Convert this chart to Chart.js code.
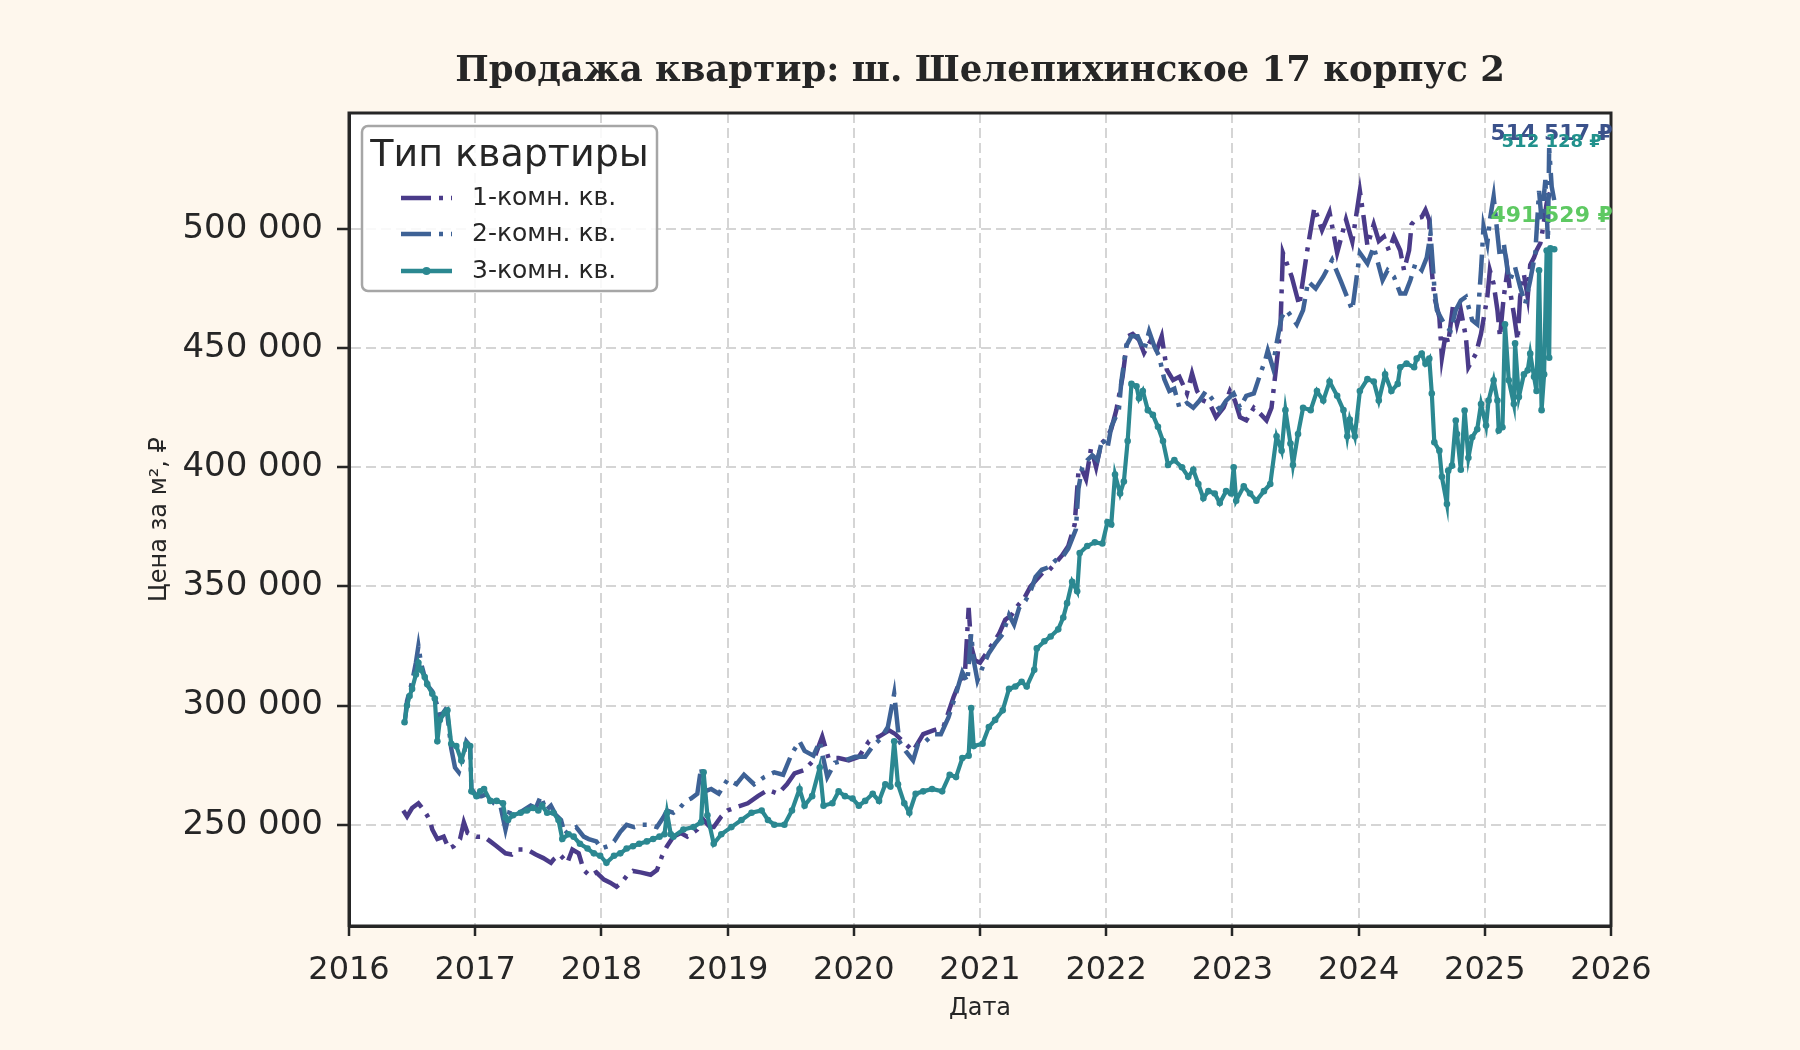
<!DOCTYPE html>
<html lang="ru">
<head>
<meta charset="utf-8">
<title>Продажа квартир: ш. Шелепихинское 17 корпус 2</title>
<script src="https://cdn.jsdelivr.net/npm/chart.js@4.4.1/dist/chart.umd.min.js"></script>
<style>
  html, body { margin: 0; padding: 0; background: #fef7ed; }
  #chart { display: block; }
</style>
</head>
<body>
<canvas id="chart" width="1800" height="1050"></canvas>
<script>
/* ── Данные ─────────────────────────────────────────────────── */
const chartTitle = 'Продажа квартир: ш. Шелепихинское 17 корпус 2';
const seriesNames = ['1-комн. кв.', '2-комн. кв.', '3-комн. кв.'];

const oneRoomYears = [
  2016.43, 2016.46, 2016.50, 2016.55, 2016.60, 2016.64, 2016.66, 2016.70, 2016.75, 2016.79,
  2016.83, 2016.88, 2016.91, 2016.94, 2017.01, 2017.07, 2017.12, 2017.17, 2017.24, 2017.29,
  2017.34, 2017.41, 2017.48, 2017.54, 2017.60, 2017.62, 2017.67, 2017.73, 2017.77, 2017.82,
  2017.86, 2017.91, 2017.96, 2018.02, 2018.07, 2018.12, 2018.16, 2018.20, 2018.25, 2018.31,
  2018.39, 2018.44, 2018.48, 2018.52, 2018.57, 2018.63, 2018.68, 2018.76, 2018.81, 2018.86,
  2018.89, 2018.95, 2019.00, 2019.08, 2019.16, 2019.24, 2019.32, 2019.40, 2019.47, 2019.53,
  2019.61, 2019.68, 2019.75, 2019.80, 2019.88, 2019.96, 2020.04, 2020.12, 2020.20, 2020.28,
  2020.33, 2020.39, 2020.47, 2020.55, 2020.63, 2020.71, 2020.79, 2020.84, 2020.88, 2020.91,
  2020.93, 2020.96, 2021.00, 2021.05, 2021.10, 2021.15, 2021.20, 2021.25, 2021.30, 2021.35,
  2021.40, 2021.45, 2021.50, 2021.55, 2021.60, 2021.65, 2021.70, 2021.75, 2021.78, 2021.80,
  2021.84, 2021.88, 2021.92, 2021.96, 2022.00, 2022.04, 2022.08, 2022.13, 2022.17, 2022.21,
  2022.26, 2022.30, 2022.35, 2022.40, 2022.44, 2022.48, 2022.53, 2022.58, 2022.64, 2022.68,
  2022.72, 2022.77, 2022.82, 2022.87, 2022.93, 2022.98, 2023.02, 2023.06, 2023.11, 2023.17,
  2023.22, 2023.27, 2023.31, 2023.34, 2023.38, 2023.40, 2023.47, 2023.53, 2023.59, 2023.65,
  2023.71, 2023.77, 2023.83, 2023.90, 2023.95, 2024.01, 2024.04, 2024.07, 2024.12, 2024.16,
  2024.20, 2024.24, 2024.28, 2024.33, 2024.36, 2024.40, 2024.42, 2024.46, 2024.50, 2024.53,
  2024.56, 2024.57, 2024.60, 2024.64, 2024.66, 2024.69, 2024.71, 2024.75, 2024.78, 2024.81,
  2024.85, 2024.87, 2024.93, 2024.97, 2025.02, 2025.04, 2025.07, 2025.10, 2025.12, 2025.15,
  2025.18, 2025.20, 2025.23, 2025.26, 2025.28, 2025.31, 2025.34, 2025.36, 2025.39, 2025.41,
  2025.44, 2025.46, 2025.49, 2025.52, 2025.55,
];
const oneRoomPrices = [
  256000, 253500, 257000, 259000, 255600, 252000, 248000, 244000, 245000, 240000,
  241000, 244000, 251000, 246500, 245000, 245000, 243000, 241000, 238000, 237500,
  239600, 239600, 237500, 236000, 234000, 235400, 237500, 234000, 239600, 238000,
  231000, 228500, 230000, 227000, 225700, 224000, 225700, 228500, 230600, 230000,
  229000, 231000, 236800, 241000, 245000, 246500, 245000, 248000, 252000, 249000,
  249000, 253500, 256000, 257600, 259000, 262000, 264600, 263000, 267000, 271500,
  273000, 277000, 287000, 278000, 278000, 277000, 278500, 285000, 287000, 289600,
  288000, 285000, 281000, 288000, 289600, 291000, 303500, 310000, 313000, 341000,
  325000, 319000, 318000, 322000, 326000, 330000, 336000, 338000, 342000, 345000,
  350000, 353000, 356000, 357000, 360000, 363000, 367000, 376000, 398000, 400000,
  395000, 408000, 400000, 410000, 412000, 416000, 424000, 438000, 455000, 456000,
  453500, 448000, 453000, 449000, 455000, 441000, 436600, 438000, 431000, 439400,
  432000, 428000, 426800, 421000, 425000, 432000, 428000, 421000, 419700, 425000,
  422500, 419700, 425000, 439000, 457700, 490000, 480000, 468000, 490000, 509000,
  499500, 507000, 490000, 504000, 494700, 516000, 505000, 493000, 502000, 495000,
  496800, 491000, 496800, 491000, 482700, 491000, 502000, 504500, 505000, 508000,
  503800, 488000, 471500, 463000, 446000, 456000, 452000, 468700, 460000, 466000,
  454700, 442000, 447700, 456000, 471500, 482700, 477000, 466000, 454700, 471500,
  482700, 474000, 464500, 453300, 471500, 481000, 471500, 485000, 488000, 491000,
  494000, 500000, 510800, 516000, 514500,
];

const twoRoomYears = [
  2016.44, 2016.46, 2016.50, 2016.53, 2016.55, 2016.57, 2016.60, 2016.63, 2016.66, 2016.70,
  2016.72, 2016.76, 2016.78, 2016.81, 2016.84, 2016.87, 2016.90, 2016.93, 2016.96, 2016.97,
  2017.01, 2017.05, 2017.10, 2017.15, 2017.20, 2017.24, 2017.27, 2017.32, 2017.38, 2017.44,
  2017.48, 2017.52, 2017.56, 2017.60, 2017.64, 2017.68, 2017.71, 2017.75, 2017.80, 2017.86,
  2017.90, 2017.96, 2018.00, 2018.05, 2018.10, 2018.15, 2018.20, 2018.26, 2018.32, 2018.38,
  2018.44, 2018.49, 2018.52, 2018.57, 2018.62, 2018.67, 2018.71, 2018.76, 2018.79, 2018.82,
  2018.87, 2018.93, 2019.00, 2019.07, 2019.13, 2019.21, 2019.29, 2019.37, 2019.44, 2019.51,
  2019.57, 2019.61, 2019.68, 2019.73, 2019.79, 2019.85, 2019.93, 2020.01, 2020.09, 2020.15,
  2020.21, 2020.27, 2020.32, 2020.36, 2020.41, 2020.47, 2020.51, 2020.57, 2020.63, 2020.69,
  2020.75, 2020.81, 2020.86, 2020.90, 2020.93, 2020.95, 2020.98, 2021.02, 2021.07, 2021.12,
  2021.18, 2021.23, 2021.27, 2021.31, 2021.36, 2021.40, 2021.44, 2021.49, 2021.54, 2021.60,
  2021.65, 2021.70, 2021.76, 2021.78, 2021.81, 2021.85, 2021.89, 2021.93, 2021.97, 2022.01,
  2022.04, 2022.10, 2022.12, 2022.16, 2022.20, 2022.25, 2022.30, 2022.34, 2022.38, 2022.42,
  2022.46, 2022.50, 2022.54, 2022.58, 2022.64, 2022.69, 2022.74, 2022.79, 2022.85, 2022.90,
  2022.95, 2023.01, 2023.06, 2023.11, 2023.17, 2023.22, 2023.26, 2023.28, 2023.32, 2023.35,
  2023.39, 2023.43, 2023.47, 2023.51, 2023.56, 2023.60, 2023.66, 2023.72, 2023.79, 2023.86,
  2023.92, 2023.95, 2024.01, 2024.07, 2024.12, 2024.19, 2024.23, 2024.28, 2024.33, 2024.37,
  2024.41, 2024.45, 2024.50, 2024.54, 2024.57, 2024.60, 2024.62, 2024.65, 2024.69, 2024.73,
  2024.77, 2024.81, 2024.85, 2024.90, 2024.94, 2024.97, 2024.99, 2025.02, 2025.04, 2025.07,
  2025.10, 2025.12, 2025.15, 2025.18, 2025.20, 2025.24, 2025.28, 2025.32, 2025.36, 2025.40,
  2025.43, 2025.45, 2025.48, 2025.50, 2025.51, 2025.53, 2025.55,
];
const twoRoomPrices = [
  292000, 302000, 310000, 318000, 325000, 318000, 312000, 308000, 306000, 300000,
  295000, 298000, 296000, 282000, 274000, 272000, 277000, 285000, 283000, 265000,
  262000, 262000, 263000, 259000, 258000, 248000, 255000, 254000, 256000, 258000,
  257000, 262000, 256000, 258000, 254000, 252000, 246000, 248000, 249000, 245000,
  244000, 243000, 240000, 241000, 243000, 247000, 250000, 249000, 250000, 250000,
  249000, 253000, 256000, 255000, 257000, 260000, 261000, 263000, 274000, 264000,
  265000, 263000, 269000, 267000, 271000, 267000, 270000, 272000, 271000, 280000,
  285000, 281000, 279000, 285000, 270000, 276000, 277000, 278500, 278500, 283000,
  286000, 291000, 305000, 285000, 281000, 277000, 284000, 285000, 288000, 288000,
  295000, 305000, 314000, 310000, 330000, 319000, 310500, 316000, 322000, 326000,
  330000, 338000, 334000, 341000, 344000, 348000, 354000, 357000, 358000, 361000,
  362000, 366000, 374000, 391000, 400000, 403000, 405000, 403000, 412000, 408000,
  417000, 424000, 436000, 451000, 455000, 455000, 449000, 457000, 451000, 446500,
  437000, 432000, 433000, 425000, 427000, 425000, 428000, 432000, 428000, 424000,
  428000, 431000, 425000, 430000, 431000, 439000, 445000, 449000, 442000, 452000,
  463000, 466000, 463000, 460000, 466000, 478000, 475000, 480000, 487000, 478000,
  470000, 466000, 490000, 485500, 492600, 478500, 482700, 480000, 473000, 473000,
  478500, 485500, 482700, 488000, 498000, 475700, 466000, 463000, 459000, 457500,
  466000, 470000, 471500, 461700, 460000, 482700, 501000, 494000, 503800, 513600,
  498000, 488000, 494000, 482700, 478500, 484000, 475700, 468700, 478500, 489800,
  516000, 503800, 520600, 495000, 534000, 517800, 512100,
];

const threeRoomYears = [
  2016.44, 2016.46, 2016.48, 2016.50, 2016.53, 2016.55, 2016.57, 2016.60, 2016.62, 2016.66,
  2016.68, 2016.70, 2016.72, 2016.76, 2016.78, 2016.81, 2016.85, 2016.89, 2016.93, 2016.96,
  2016.97, 2017.01, 2017.04, 2017.07, 2017.12, 2017.17, 2017.22, 2017.24, 2017.26, 2017.30,
  2017.36, 2017.41, 2017.46, 2017.50, 2017.53, 2017.57, 2017.62, 2017.66, 2017.69, 2017.74,
  2017.78, 2017.83, 2017.89, 2017.94, 2017.99, 2018.04, 2018.10, 2018.15, 2018.20, 2018.25,
  2018.30, 2018.36, 2018.41, 2018.46, 2018.50, 2018.52, 2018.55, 2018.57, 2018.65, 2018.73,
  2018.79, 2018.81, 2018.84, 2018.89, 2018.95, 2019.03, 2019.11, 2019.19, 2019.27, 2019.32,
  2019.37, 2019.45, 2019.51, 2019.57, 2019.61, 2019.67, 2019.73, 2019.76, 2019.83, 2019.88,
  2019.93, 2019.99, 2020.04, 2020.09, 2020.15, 2020.20, 2020.25, 2020.29, 2020.32, 2020.35,
  2020.40, 2020.44, 2020.49, 2020.55, 2020.62, 2020.70, 2020.76, 2020.81, 2020.86, 2020.91,
  2020.93, 2020.95, 2021.02, 2021.07, 2021.12, 2021.18, 2021.23, 2021.28, 2021.33, 2021.37,
  2021.43, 2021.45, 2021.51, 2021.56, 2021.62, 2021.66, 2021.69, 2021.73, 2021.77, 2021.79,
  2021.85, 2021.91, 2021.97, 2022.01, 2022.04, 2022.07, 2022.11, 2022.14, 2022.17, 2022.20,
  2022.24, 2022.26, 2022.29, 2022.33, 2022.37, 2022.41, 2022.45, 2022.49, 2022.54, 2022.60,
  2022.65, 2022.69, 2022.73, 2022.77, 2022.81, 2022.86, 2022.90, 2022.95, 2022.99, 2023.01,
  2023.03, 2023.09, 2023.14, 2023.19, 2023.25, 2023.30, 2023.35, 2023.39, 2023.42, 2023.46,
  2023.48, 2023.52, 2023.56, 2023.62, 2023.67, 2023.72, 2023.77, 2023.83, 2023.88, 2023.91,
  2023.93, 2023.97, 2024.01, 2024.07, 2024.12, 2024.16, 2024.21, 2024.26, 2024.31, 2024.33,
  2024.38, 2024.44, 2024.46, 2024.50, 2024.53, 2024.56, 2024.58, 2024.60, 2024.64, 2024.66,
  2024.70, 2024.71, 2024.74, 2024.77, 2024.78, 2024.81, 2024.84, 2024.87, 2024.90, 2024.94,
  2024.97, 2025.01, 2025.03, 2025.07, 2025.10, 2025.11, 2025.14, 2025.16, 2025.19, 2025.23,
  2025.24, 2025.27, 2025.31, 2025.34, 2025.36, 2025.39, 2025.41, 2025.43, 2025.45, 2025.47,
  2025.49, 2025.51, 2025.52, 2025.55,
];
const threeRoomPrices = [
  293000, 300000, 304000, 307000, 313000, 318000, 315000, 312000, 309000, 305000,
  303000, 285000, 294000, 297000, 298000, 284000, 283000, 277000, 284000, 283000,
  264000, 262000, 264000, 265000, 260000, 260000, 259000, 253000, 252000, 254000,
  255000, 256000, 257000, 256000, 258000, 255000, 255000, 252000, 244000, 246000,
  245000, 242000, 240000, 238000, 237000, 234000, 237000, 238000, 240000, 241000,
  242000, 243000, 244000, 245000, 246000, 255000, 246000, 245000, 248000, 249000,
  251000, 272000, 254000, 242000, 246000, 249000, 252000, 255000, 256000, 252000,
  250000, 250000, 256000, 265000, 258000, 262000, 274000, 258000, 259000, 264000,
  262000, 261000, 258000, 260000, 263000, 260000, 267000, 266000, 285000, 267000,
  259000, 255000, 263000, 264000, 265000, 264000, 271000, 270000, 278000, 279000,
  299000, 283000, 284000, 291000, 294000, 298000, 307000, 308000, 310000, 308000,
  315000, 324000, 327000, 329000, 332000, 337000, 343000, 352000, 348000, 364000,
  367000, 368500, 368000, 377000, 376000, 397000, 389000, 394000, 411000, 435000,
  434000, 429000, 432000, 424000, 422000, 417000, 411000, 401000, 403000, 400000,
  396000, 399000, 393000, 387000, 390000, 389000, 385000, 390000, 389000, 400000,
  386000, 392000, 389000, 386000, 390000, 393000, 413000, 407000, 424000, 410000,
  401000, 414000, 425000, 424000, 432000, 428000, 436000, 430000, 424000, 413000,
  420000, 413000, 432000, 437000, 436000, 428000, 439000, 432000, 435000, 442000,
  443500, 442000, 445600, 447700, 443500, 445600, 431000, 410500, 407000, 396000,
  384600, 398600, 400700, 419600, 414000, 399000, 423800, 404000, 412600, 416000,
  426600, 417500, 428000, 436500, 428000, 415400, 416800, 460000, 436500, 426600,
  452000, 429500, 439000, 440700, 447700, 438000, 432000, 482700, 424000, 439000,
  491000, 446000, 491900, 491500,
];

const xTickYears = [2016, 2017, 2018, 2019, 2020, 2021, 2022, 2023, 2024, 2025, 2026];
const yTickValues = [250000, 300000, 350000, 400000, 450000, 500000];

// подписи последних значений
const endLabels = ['514 517 ₽', '512 128 ₽', '491 529 ₽'];
const endLabelYears = [2025.53, 2025.53, 2025.53];
const endLabelValues = [539600, 536300, 505200];

/* ── Оформление ──────────────────────────────────────────────── */
const COLORS = {
  one:   '#4a3b89',
  two:   '#3e6296',
  three: '#2b8891',
  labels: ['#3b528b', '#21918c', '#5ec962'],
  ink:   '#262626',
  grid:  '#d5d5d5',
  bg:    '#fef7ed',
};
const DASH_DOT = [30, 8, 4, 8];
const FONT = '"DejaVu Sans", sans-serif';

function toPoints(xs, ys) {
  return xs.map((x, i) => ({ x, y: ys[i] }));
}

function formatRub(v) {
  return String(v).replace(/\B(?=(\d{3})+(?!\d))/g, ' ');
}

/* ── Плагин: фон, заголовок, рамка, легенда, подписи ─────────── */
const decorPlugin = {
  id: 'decor',
  beforeDraw(chart) {
    const { ctx, chartArea: a } = chart;
    ctx.save();
    ctx.fillStyle = COLORS.bg;
    ctx.fillRect(0, 0, chart.width, chart.height);
    ctx.fillStyle = '#ffffff';
    ctx.fillRect(a.left, a.top, a.right - a.left, a.bottom - a.top);
    ctx.restore();
  },
  afterDraw(chart) {
    const { ctx, chartArea: a, scales } = chart;
    ctx.save();

    // заголовок
    ctx.fillStyle = COLORS.ink;
    ctx.font = `bold 35.5px "DejaVu Serif", serif`;
    ctx.textAlign = 'center';
    ctx.textBaseline = 'middle';
    ctx.fillText(chartTitle, (a.left + a.right) / 2, 72);

    // рамка
    ctx.strokeStyle = COLORS.ink;
    ctx.lineWidth = 3;
    ctx.strokeRect(a.left, a.top, a.right - a.left, a.bottom - a.top);

    // подписи последних значений
    endLabels.forEach((txt, i) => {
      ctx.font = `bold ${i === 1 ? 18 : 22}px ${FONT}`;
      ctx.fillStyle = COLORS.labels[i];
      ctx.fillText(txt, scales.x.getPixelForValue(endLabelYears[i]), scales.y.getPixelForValue(endLabelValues[i]));
    });

    // легенда
    const box = { x: a.left + 13, y: a.top + 13, w: 295, h: 165 };
    ctx.beginPath();
    ctx.roundRect(box.x, box.y, box.w, box.h, 6);
    ctx.fillStyle = 'rgba(255,255,255,0.85)';
    ctx.fill();
    ctx.strokeStyle = '#a6a6a6';
    ctx.lineWidth = 2.5;
    ctx.stroke();

    ctx.fillStyle = COLORS.ink;
    ctx.font = `38px ${FONT}`;
    ctx.textAlign = 'center';
    ctx.fillText('Тип квартиры', box.x + box.w / 2, box.y + 30);

    const rowY = [box.y + 72, box.y + 108, box.y + 145];
    const lineColors = [COLORS.one, COLORS.two, COLORS.three];
    ctx.font = `25px ${FONT}`;
    ctx.textAlign = 'left';
    seriesNames.forEach((name, i) => {
      const x0 = box.x + 39, x1 = box.x + 90;
      ctx.beginPath();
      ctx.strokeStyle = lineColors[i];
      ctx.lineWidth = 4.5;
      ctx.setLineDash(i < 2 ? DASH_DOT : []);
      ctx.moveTo(x0, rowY[i]);
      ctx.lineTo(x1, rowY[i]);
      ctx.stroke();
      ctx.setLineDash([]);
      if (i === 2) {
        ctx.beginPath();
        ctx.fillStyle = lineColors[i];
        ctx.arc((x0 + x1) / 2, rowY[i], 4, 0, Math.PI * 2);
        ctx.fill();
      }
      ctx.fillStyle = COLORS.ink;
      ctx.fillText(name, box.x + 110, rowY[i]);
    });
    ctx.restore();
  },
};

/* ── График ──────────────────────────────────────────────────── */
const ctx = document.getElementById('chart');
new Chart(ctx, {
  type: 'line',
  data: {
    datasets: [
      {
        label: seriesNames[0],
        data: toPoints(oneRoomYears, oneRoomPrices),
        borderColor: COLORS.one,
        borderWidth: 4.5,
        borderDash: DASH_DOT,
        pointRadius: 0,
        order: 2,
      },
      {
        label: seriesNames[1],
        data: toPoints(twoRoomYears, twoRoomPrices),
        borderColor: COLORS.two,
        borderWidth: 4.5,
        borderDash: DASH_DOT,
        pointRadius: 0,
        order: 1,
      },
      {
        label: seriesNames[2],
        data: toPoints(threeRoomYears, threeRoomPrices),
        borderColor: COLORS.three,
        backgroundColor: COLORS.three,
        borderWidth: 4.2,
        pointRadius: 3.3,
        pointBorderWidth: 0,
        pointBackgroundColor: COLORS.three,
        order: 0,
      },
    ],
  },
  options: {
    responsive: false,
    animation: false,
    events: [],
    layout: { padding: { left: 141, right: 189, top: 113, bottom: 22 } },
    plugins: {
      legend: { display: false },
      tooltip: { enabled: false },
      title: { display: false },
    },
    scales: {
      x: {
        type: 'linear',
        min: 2016,
        max: 2026,
        afterBuildTicks: s => { s.ticks = xTickYears.map(v => ({ value: v })); },
        afterFit: s => { s.height = 1050 - 22 - 926; },
        ticks: {
          callback: v => String(v),
          color: COLORS.ink,
          font: { family: FONT, size: 32 },
          padding: 15,
          maxRotation: 0,
        },
        grid: {
          color: COLORS.grid,
          lineWidth: 2,
          tickLength: 10,
          tickColor: COLORS.ink,
          tickWidth: 2.5,
        },
        border: { display: true, color: COLORS.ink, width: 3, dash: [10, 5] },
        title: {
          display: true,
          text: 'Дата',
          color: COLORS.ink,
          font: { family: FONT, size: 24 },
          padding: { top: 0, bottom: 5 },
        },
      },
      y: {
        type: 'linear',
        min: 207500,
        max: 548700,
        afterBuildTicks: s => { s.ticks = yTickValues.map(v => ({ value: v })); },
        afterFit: s => { s.width = 349 - 141; },
        ticks: {
          callback: v => formatRub(v),
          color: COLORS.ink,
          font: { family: FONT, size: 34 },
          padding: 14,
        },
        grid: {
          color: COLORS.grid,
          lineWidth: 2,
          tickLength: 12,
          tickColor: COLORS.ink,
          tickWidth: 2.5,
        },
        border: { display: true, color: COLORS.ink, width: 3, dash: [10, 5] },
        title: {
          display: true,
          text: 'Цена за м², ₽',
          color: COLORS.ink,
          font: { family: FONT, size: 24 },
          padding: { top: 4, bottom: 0 },
        },
      },
    },
  },
  plugins: [decorPlugin],
});
</script>
</body>
</html>
